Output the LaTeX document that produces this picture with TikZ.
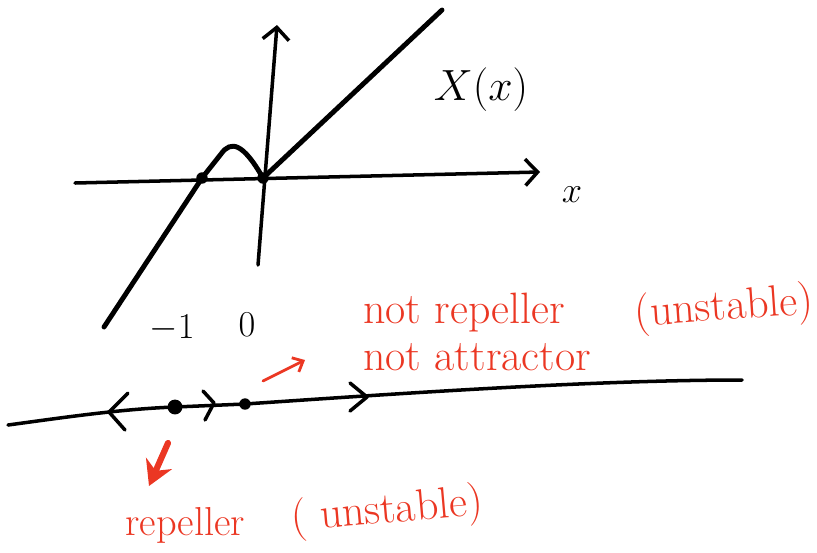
\documentclass[tikz,border=0pt]{standalone}
\usepackage{amsmath, amssymb}
\usepackage{tikz}
\usetikzlibrary{arrows.meta}
\definecolor{inkred}{RGB}{235,55,35}

\begin{document}
\begin{tikzpicture}[>={Straight Barb[length=7pt,width=15pt]}, x=0.02cm, y=-0.02cm,
    line cap=round, line join=round,
    dot/.style={circle,fill,inner sep=3pt},
    sdot/.style={circle,fill,inner sep=2.3pt},
    redtext/.style={inkred, font=\fontsize{25}{29}\selectfont, inner sep=0pt},
    blacktext/.style={font=\fontsize{20}{24}\selectfont, inner sep=0pt}]
  \useasboundingbox (0,0) rectangle (817,552);
  % axes of the graph
  \draw[line width=2pt, ->] (75,183) -- (540,172);
  \draw[line width=2pt, ->] (258,265) -- (277,25);
  \node[blacktext] (xlab) at (572,195) {$x$};
  \node[blacktext, font=\fontsize{24}{28}\selectfont] (Xlab) at (481,90) {$X(x)$};
  % zeros of X
  \node[sdot] (m1) at (202,178) {};
  \node[sdot] (z)  at (263,178) {};
  % the curve X(x)
  \draw[line width=2.8pt] (104,327) -- (m1.center) -- (221,154)
      .. controls (231,140) and (243,143) .. (z.center) -- (442,10);
  \node[blacktext] (lm1) at (172,328) {$-1$};
  \node[blacktext] (l0)  at (247,325) {$0$};
  % phase line
  \coordinate (left) at (8,425);
  \node[dot]  (p1) at (175,407) {};
  \node[sdot] (p0) at (245,404) {};
  \coordinate (right) at (742,380);
  \draw[line width=2pt] (left) .. controls (60,418) and (120,409) .. (p1.center)
      -- (p0.center) .. controls (420,392) and (600,380) .. (right);
  % flow directions
  \draw[line width=2pt] (128,393) -- (109,412) -- (125,430);
  \draw[line width=2pt] (203,391) -- (214,403) -- (205,420);
  \draw[line width=2pt] (350,383) -- (367,397) -- (350,411);
  % notes
  \coordinate (a0) at (263,381);
  \coordinate (a1) at (305,360);
  \draw[inkred, line width=1.6pt, -{Straight Barb[length=5pt,width=9pt]}] (a0) -- (a1);
  \node[redtext, anchor=west] (nrep) at (363,313) {not repeller};
  \node[redtext, rotate=4] (uns1) at (724,309) {(unstable)};
  \node[redtext, anchor=west] (natt) at (363,357) {not attractor};
  \coordinate (b0) at (168,443);
  \coordinate (b1) at (149,486);
  \draw[inkred, line width=3.5pt, -{Stealth[length=14pt,width=16pt]}] (b0) -- (b1);
  \node[redtext, anchor=west, font=\fontsize{23}{27}\selectfont] (rep) at (125,525) {repeller};
  \node[redtext, rotate=5] (uns2) at (387,512) {(\ unstable)};
\end{tikzpicture}
\end{document}
